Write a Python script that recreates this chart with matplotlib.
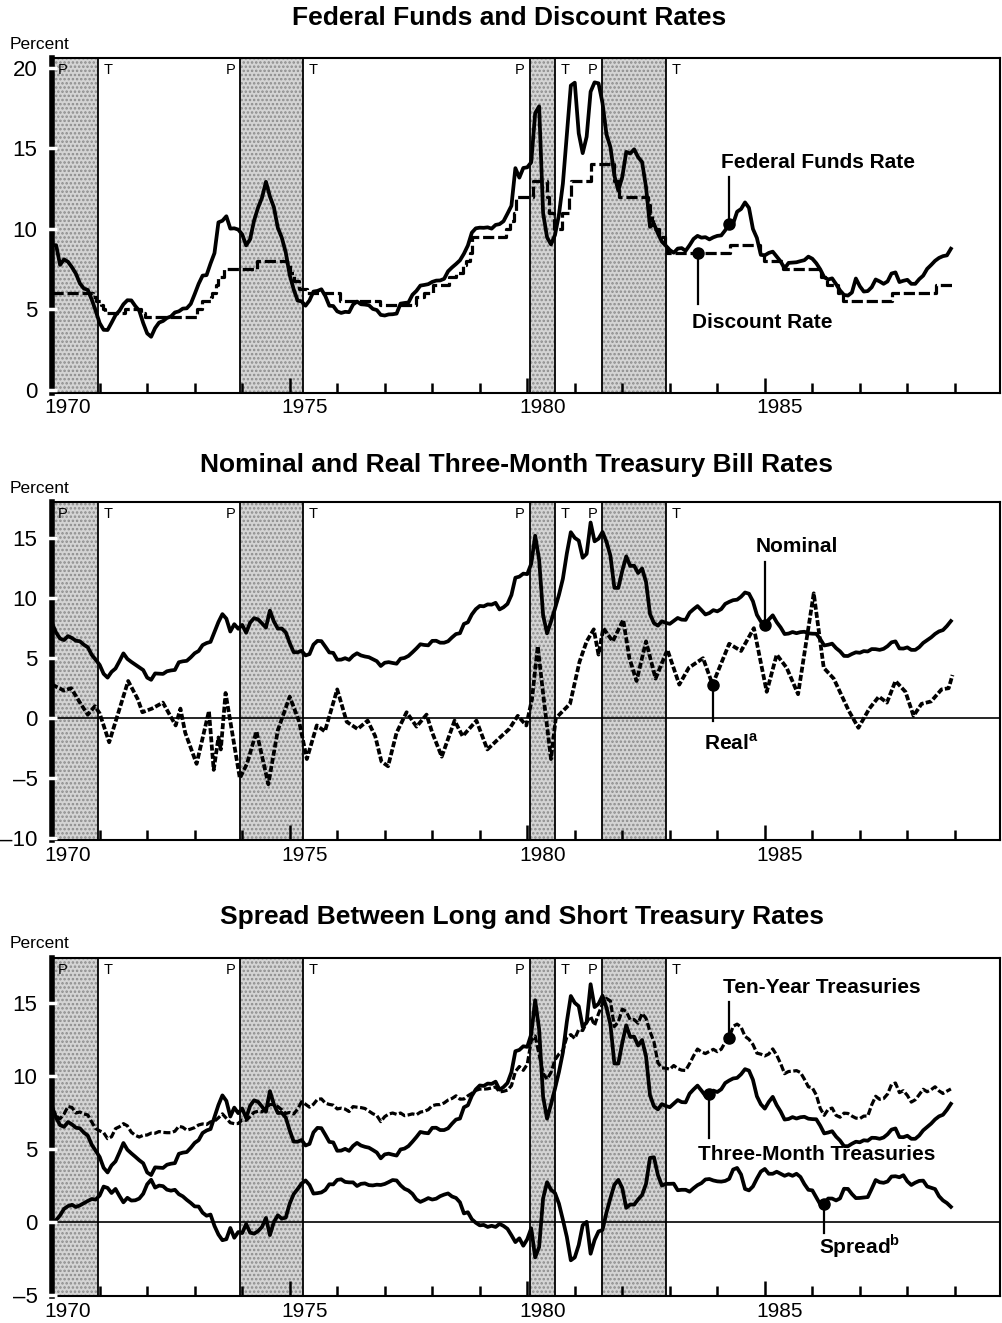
import numpy as np
import matplotlib.pyplot as plt
from matplotlib.transforms import ScaledTranslation, blended_transform_factory

plt.rcParams["font.family"] = ["Liberation Sans", "DejaVu Sans"]
plt.rcParams["mathtext.fontset"] = "custom"
plt.rcParams["mathtext.rm"] = "Liberation Sans"
plt.rcParams["mathtext.bf"] = "Liberation Sans:bold"
plt.rcParams["hatch.linewidth"] = 1.2

# Monthly averages, Jan 1970 - Dec 1988 (percent)
fed_funds = [
    8.98, 8.98, 7.76, 8.10, 7.95, 7.61, 7.21, 6.61, 6.29, 6.20, 5.60, 4.90,
    4.14, 3.72, 3.71, 4.16, 4.63, 4.91, 5.31, 5.56, 5.55, 5.20, 4.91, 4.14,
    3.50, 3.29, 3.83, 4.17, 4.27, 4.46, 4.55, 4.80, 4.87, 5.04, 5.06, 5.33,
    5.94, 6.58, 7.09, 7.12, 7.84, 8.49, 10.40, 10.50, 10.78, 10.01, 10.03, 9.95,
    9.65, 8.97, 9.35, 10.51, 11.31, 11.93, 12.92, 12.01, 11.34, 10.06, 9.45, 8.53,
    7.13, 6.24, 5.54, 5.49, 5.22, 5.55, 6.10, 6.14, 6.24, 5.82, 5.22, 5.20,
    4.87, 4.77, 4.84, 4.82, 5.29, 5.48, 5.31, 5.29, 5.25, 5.02, 4.95, 4.65,
    4.61, 4.68, 4.69, 4.73, 5.35, 5.39, 5.42, 5.90, 6.14, 6.47, 6.51, 6.56,
    6.70, 6.78, 6.79, 6.89, 7.36, 7.60, 7.81, 8.04, 8.45, 8.96, 9.76, 10.03,
    10.07, 10.06, 10.09, 10.01, 10.24, 10.29, 10.47, 10.94, 11.43, 13.77, 13.18, 13.78,
    13.82, 14.13, 17.19, 17.61, 10.98, 9.47, 9.03, 9.61, 10.87, 12.81, 15.85, 18.90,
    19.08, 15.93, 14.70, 15.72, 18.52, 19.10, 19.04, 17.82, 15.87, 15.08, 13.31, 12.37,
    13.22, 14.78, 14.68, 14.94, 14.45, 14.15, 12.59, 10.12, 10.31, 9.71, 9.20, 8.95,
    8.68, 8.51, 8.77, 8.80, 8.63, 8.98, 9.37, 9.56, 9.45, 9.48, 9.34, 9.47,
    9.56, 9.59, 9.91, 10.29, 10.32, 11.06, 11.23, 11.64, 11.30, 9.99, 9.43, 8.38,
    8.35, 8.50, 8.58, 8.27, 7.97, 7.53, 7.88, 7.90, 7.92, 7.99, 8.05, 8.27,
    8.14, 7.86, 7.48, 6.99, 6.85, 6.92, 6.56, 6.17, 5.89, 5.85, 6.04, 6.91,
    6.43, 6.10, 6.13, 6.37, 6.85, 6.73, 6.58, 6.73, 7.22, 7.29, 6.69, 6.77,
    6.83, 6.58, 6.58, 6.87, 7.09, 7.51, 7.75, 8.01, 8.19, 8.30, 8.35, 8.76,
]

tbill_3m = [
    7.87, 7.13, 6.63, 6.51, 6.84, 6.68, 6.45, 6.41, 6.12, 5.91, 5.28, 4.87,
    4.44, 3.70, 3.38, 3.86, 4.14, 4.75, 5.40, 4.94, 4.69, 4.46, 4.22, 4.01,
    3.38, 3.20, 3.73, 3.71, 3.69, 3.91, 3.98, 4.02, 4.66, 4.74, 4.78, 5.07,
    5.41, 5.60, 6.09, 6.26, 6.36, 7.19, 8.01, 8.67, 8.29, 7.22, 7.83, 7.45,
    7.77, 7.12, 7.96, 8.33, 8.23, 7.90, 7.55, 8.96, 8.06, 7.46, 7.47, 7.15,
    6.26, 5.50, 5.49, 5.61, 5.23, 5.34, 6.13, 6.44, 6.42, 5.96, 5.48, 5.44,
    4.87, 4.88, 5.00, 4.86, 5.20, 5.41, 5.23, 5.14, 5.08, 4.92, 4.75, 4.35,
    4.62, 4.67, 4.60, 4.54, 4.96, 5.02, 5.19, 5.49, 5.81, 6.16, 6.10, 6.07,
    6.44, 6.45, 6.29, 6.29, 6.41, 6.73, 7.01, 7.08, 7.85, 7.99, 8.64, 9.08,
    9.35, 9.32, 9.48, 9.46, 9.61, 9.06, 9.24, 9.52, 10.26, 11.70, 11.79, 12.04,
    12.00, 12.86, 15.20, 13.20, 8.58, 7.07, 8.06, 9.13, 10.27, 11.62, 13.73, 15.49,
    15.02, 14.79, 13.36, 13.69, 16.30, 14.73, 14.95, 15.51, 14.70, 13.54, 10.86, 10.85,
    12.28, 13.48, 12.68, 12.70, 12.09, 12.47, 11.35, 8.68, 7.92, 7.71, 8.07, 7.94,
    7.86, 8.11, 8.35, 8.21, 8.19, 8.79, 9.08, 9.34, 9.00, 8.64, 8.76, 9.00,
    8.90, 9.09, 9.52, 9.69, 9.83, 9.87, 10.12, 10.47, 10.37, 9.74, 8.61, 8.06,
    7.76, 8.22, 8.57, 8.00, 7.56, 7.01, 7.05, 7.18, 7.08, 7.17, 7.20, 7.07,
    7.04, 7.03, 6.59, 6.06, 6.12, 6.21, 5.84, 5.57, 5.19, 5.18, 5.35, 5.49,
    5.45, 5.59, 5.56, 5.76, 5.75, 5.69, 5.78, 6.00, 6.32, 6.40, 5.81, 5.80,
    5.90, 5.69, 5.69, 5.92, 6.27, 6.50, 6.73, 7.02, 7.23, 7.34, 7.68, 8.09,
]

treasury_10y = [
    7.79, 7.24, 7.07, 7.39, 7.91, 7.84, 7.46, 7.53, 7.39, 7.33, 6.84, 6.39,
    6.24, 6.11, 5.70, 5.83, 6.39, 6.52, 6.73, 6.58, 6.14, 5.93, 5.81, 5.93,
    5.95, 6.08, 6.07, 6.19, 6.13, 6.11, 6.11, 6.21, 6.55, 6.48, 6.28, 6.36,
    6.46, 6.64, 6.71, 6.67, 6.85, 6.90, 7.13, 7.40, 7.09, 6.79, 6.73, 6.74,
    6.99, 6.96, 7.21, 7.51, 7.58, 7.54, 7.81, 8.04, 8.04, 7.90, 7.68, 7.43,
    7.50, 7.39, 7.73, 8.23, 8.06, 7.86, 8.06, 8.40, 8.43, 8.14, 8.05, 8.00,
    7.74, 7.79, 7.73, 7.56, 7.90, 7.86, 7.83, 7.77, 7.59, 7.41, 7.29, 6.87,
    7.21, 7.39, 7.46, 7.37, 7.46, 7.28, 7.33, 7.40, 7.34, 7.52, 7.58, 7.69,
    7.96, 8.03, 8.04, 8.15, 8.35, 8.46, 8.64, 8.41, 8.42, 8.64, 8.81, 9.01,
    9.10, 9.10, 9.12, 9.18, 9.25, 8.91, 8.95, 9.03, 9.33, 10.30, 10.65, 10.39,
    10.80, 12.41, 12.75, 11.47, 10.18, 9.78, 10.25, 11.10, 11.51, 11.75, 12.68, 12.84,
    12.57, 13.19, 13.12, 13.68, 14.10, 13.47, 14.28, 14.94, 15.32, 15.15, 13.39, 13.72,
    14.59, 14.43, 13.86, 13.87, 13.62, 14.30, 13.95, 13.06, 12.34, 10.91, 10.55, 10.54,
    10.46, 10.72, 10.51, 10.40, 10.38, 10.85, 11.38, 11.85, 11.65, 11.54, 11.69, 11.83,
    11.67, 11.84, 12.32, 12.63, 13.41, 13.56, 13.36, 12.72, 12.52, 12.16, 11.57, 11.50,
    11.38, 11.51, 11.86, 11.43, 10.85, 10.16, 10.31, 10.33, 10.37, 10.24, 9.78, 9.26,
    9.19, 8.70, 7.78, 7.30, 7.71, 7.80, 7.30, 7.17, 7.45, 7.43, 7.25, 7.11,
    7.08, 7.25, 7.25, 8.02, 8.61, 8.40, 8.45, 8.76, 9.42, 9.52, 8.86, 8.99,
    8.67, 8.21, 8.37, 8.72, 9.09, 8.92, 9.06, 9.26, 8.98, 8.80, 8.96, 9.11,
]

# Discount rate: date of each change (decimal year) and the new rate
discount_dates = [
    1970.00, 1970.86, 1970.92, 1971.02, 1971.06, 1971.12, 1971.54, 1971.86, 1971.95,
    1973.04, 1973.15, 1973.34, 1973.36, 1973.44, 1973.50, 1973.62, 1974.31, 1974.94,
    1975.01, 1975.10, 1975.19, 1975.37, 1976.05, 1976.89, 1977.66, 1977.82, 1978.02,
    1978.36, 1978.50, 1978.64, 1978.72, 1978.79, 1978.83, 1979.55, 1979.63, 1979.72,
    1979.77, 1980.12, 1980.41, 1980.45, 1980.57, 1980.74, 1980.88, 1980.93, 1981.34,
    1981.83, 1981.93, 1982.55, 1982.59, 1982.62, 1982.65, 1982.78, 1982.89, 1982.95,
    1984.27, 1984.89, 1984.98, 1985.38, 1986.18, 1986.30, 1986.53, 1986.64, 1987.68,
    1988.61, 1988.95,
]
discount_rate = [
    6.0, 5.75, 5.5, 5.25, 5.0, 4.75, 5.0, 4.75, 4.5,
    5.0, 5.5, 5.75, 6.0, 6.5, 7.0, 7.5, 8.0, 7.75,
    7.25, 6.75, 6.25, 6.0, 5.5, 5.25, 5.75, 6.0, 6.5,
    7.0, 7.25, 7.75, 8.0, 8.5, 9.5, 10.0, 10.5, 11.0,
    12.0, 13.0, 12.0, 11.0, 10.0, 11.0, 12.0, 13.0, 14.0,
    13.0, 12.0, 11.5, 11.0, 10.5, 10.0, 9.5, 9.0, 8.5,
    9.0, 8.5, 8.0, 7.5, 7.0, 6.5, 6.0, 5.5, 6.0,
    6.5, 6.5,
]

# Real three-month bill rate
real_dates = [
    1970.00, 1970.25, 1970.40, 1970.60, 1970.75, 1970.90, 1971.00, 1971.20, 1971.60,
    1971.80, 1971.90, 1972.10, 1972.33, 1972.60, 1972.70, 1972.80, 1973.04, 1973.30,
    1973.40, 1973.50, 1973.55, 1973.65, 1973.95, 1974.10, 1974.30, 1974.55, 1974.75,
    1975.00, 1975.20, 1975.36, 1975.57, 1975.74, 1976.00, 1976.20, 1976.43, 1976.64,
    1976.80, 1976.93, 1977.07, 1977.25, 1977.46, 1977.67, 1977.88, 1978.00, 1978.20,
    1978.47, 1978.64, 1978.93, 1979.16, 1979.40, 1979.62, 1979.80, 1979.98, 1980.10,
    1980.22, 1980.35, 1980.50, 1980.60, 1980.90, 1981.10, 1981.25, 1981.40, 1981.50,
    1981.60, 1981.80, 1982.02, 1982.15, 1982.30, 1982.50, 1982.70, 1982.95, 1983.20,
    1983.40, 1983.70, 1983.90, 1984.25, 1984.50, 1984.77, 1985.04, 1985.25, 1985.46,
    1985.70, 1986.03, 1986.24, 1986.45, 1986.77, 1986.97, 1987.20, 1987.40, 1987.57,
    1987.75, 1987.96, 1988.13, 1988.30, 1988.50, 1988.72, 1988.87, 1988.95,
]
real_tbill = [
    2.8, 2.3, 2.5, 1.2, 0.3, 1.0, 0.4, -2.0, 3.1,
    1.6, 0.5, 0.8, 1.3, -0.6, 0.8, -1.2, -3.8, 0.6,
    -4.3, -1.6, -2.6, 2.1, -5.0, -3.8, -1.1, -5.5, -1.0,
    1.8, -0.3, -3.4, -0.6, -1.1, 2.4, -0.3, -0.9, -0.2,
    -1.5, -3.6, -4.0, -1.2, 0.5, -0.7, 0.3, -1.2, -3.2,
    -0.2, -1.5, -0.2, -2.6, -1.7, -0.9, 0.2, -0.6, 1.6,
    6.0, 1.5, -3.4, 0.0, 1.2, 4.7, 6.4, 7.4, 5.3,
    7.5, 6.4, 8.2, 5.0, 3.1, 6.4, 3.3, 5.7, 2.8,
    4.2, 5.0, 2.8, 6.2, 5.6, 7.5, 2.2, 5.3, 4.2,
    2.0, 10.4, 4.2, 3.3, 0.6, -0.8, 0.8, 1.8, 1.3,
    3.1, 2.2, 0.2, 1.2, 1.4, 2.4, 2.5, 3.6,
]

# NBER business cycle peaks (P) and troughs (T)
recessions = [(1970.0, 1970.96), (1973.95, 1975.27), (1980.05, 1980.58), (1981.58, 1982.92)]

months = 1970 + np.arange(len(fed_funds)) / 12
# footnote b: spread is ten-year yield less three-month bill rate
spread = np.array(treasury_10y) - np.array(tbill_3m)

LW = 2.3


def setup_axes(ax, ylim, yticks, zero_line=False):
    ax.set_xlim(1970, 1989.95)
    ax.set_ylim(*ylim)
    ax.set_yticks(yticks)
    ax.set_yticklabels(["\u2013" + str(-t) if t < 0 else str(t) for t in yticks])
    ax.set_xticks([1970, 1975, 1980, 1985])
    ax.set_xticks([y for y in range(1971, 1990) if y % 5], minor=True)
    ax.tick_params(axis="x", which="major", direction="in", length=11, width=1.8,
                   labelsize=15, pad=4)
    ax.tick_params(axis="x", which="minor", direction="in", length=7, width=1.8)
    ax.tick_params(axis="y", direction="inout", length=7, width=2.5, color="white",
                   labelsize=16, pad=7)
    ax.yaxis.set_zorder(3)
    offset = ScaledTranslation(11 / 72, 0, ax.figure.dpi_scale_trans)
    for lab in ax.get_xticklabels():
        lab.set_transform(lab.get_transform() + offset)
    for side in ["top", "right", "bottom"]:
        ax.spines[side].set_linewidth(1.5)
    ax.spines["left"].set_linewidth(4)
    if zero_line:
        ax.axhline(0, color="black", lw=1.2, zorder=1.5)

    trans = blended_transform_factory(ax.transData, ax.transAxes)
    for i, (start, end) in enumerate(recessions):
        ax.axvspan(start, end, facecolor="#d4d4d4", edgecolor="#8c8c8c", hatch="....",
                   linewidth=0, zorder=0)
        ax.axvline(start, color="black", lw=1.3, zorder=1)
        ax.axvline(end, color="black", lw=1.3, zorder=1)
        if i == 0:
            ax.text(start + 0.12, 0.985, "P", transform=trans, fontsize=10.5,
                    ha="left", va="top")
        else:
            ax.text(start - 0.1, 0.985, "P", transform=trans, fontsize=10.5,
                    ha="right", va="top")
        ax.text(end + 0.12, 0.985, "T", transform=trans, fontsize=10.5,
                ha="left", va="top")


def callout(ax, x, y, y_end, tx, ty, text):
    ax.plot([x, x], [y, y_end], color="black", lw=1.6, zorder=4)
    ax.plot(x, y, "o", color="black", ms=8, zorder=4)
    ax.text(tx, ty, text, fontsize=15, fontweight="bold", ha="left", va="center")


fig = plt.figure(figsize=(10.03, 13.23), dpi=100)

# Panel 1: federal funds and discount rates
ax1 = fig.add_axes([0.052, 0.703, 0.945, 0.253])
setup_axes(ax1, (-0.2, 20.6), [0, 5, 10, 15, 20])
ax1.plot(months, fed_funds, color="black", lw=LW + 0.4, zorder=3)
ax1.step(discount_dates, discount_rate, where="post", color="black", lw=LW,
         dashes=(3.5, 1.2), zorder=3)
callout(ax1, months[171], fed_funds[171], 13.2, 1984.07, 14.1, "Federal Funds Rate")
callout(ax1, months[163], 8.5, 5.3, 1983.47, 4.2, "Discount Rate")

# Panel 2: nominal and real three-month bill rates
ax2 = fig.add_axes([0.052, 0.365, 0.945, 0.2555])
setup_axes(ax2, (-10.15, 18.0), [-10, -5, 0, 5, 10, 15], zero_line=True)
ax2.plot(months, tbill_3m, color="black", lw=LW + 0.4, zorder=3)
ax2.plot(real_dates, real_tbill, color="black", lw=LW + 0.4, dashes=(1.6, 0.6), zorder=3)
callout(ax2, months[180], tbill_3m[180], 13.0, 1984.81, 14.3, "Nominal")
callout(ax2, real_dates[74], real_tbill[74], -0.2, 1983.72, -2.1, r"Real$^\mathbf{a}$")

# Panel 3: long and short treasury rates and the spread
ax3 = fig.add_axes([0.052, 0.0204, 0.945, 0.2555])
setup_axes(ax3, (-5.1, 18.1), [-5, 0, 5, 10, 15], zero_line=True)
ax3.plot(months, treasury_10y, color="black", lw=LW, dashes=(2.2, 0.8), zorder=3)
ax3.plot(months, tbill_3m, color="black", lw=LW + 0.4, zorder=3)
ax3.plot(months, spread, color="black", lw=LW + 0.4, zorder=3)
callout(ax3, months[171], treasury_10y[171], 15.1, 1984.12, 16.1, "Ten-Year Treasuries")
callout(ax3, months[166], tbill_3m[166], 5.75, 1983.6, 4.6, "Three-Month Treasuries")
callout(ax3, months[195], spread[195], -0.75, 1986.13, -1.7, r"Spread$^\mathbf{b}$")

titles = [
    (0.508, 0.9864, "Federal Funds and Discount Rates"),
    (0.515, 0.6485, "Nominal and Real Three-Month Treasury Bill Rates"),
    (0.520, 0.3070, "Spread Between Long and Short Treasury Rates"),
]
for x, y, t in titles:
    fig.text(x, y, t, ha="center", va="center", fontsize=19, fontweight="bold")
for y in [0.9667, 0.631, 0.287]:
    fig.text(0.010, y, "Percent", ha="left", va="center", fontsize=12.5)

fig.savefig("out.png", dpi=100)
